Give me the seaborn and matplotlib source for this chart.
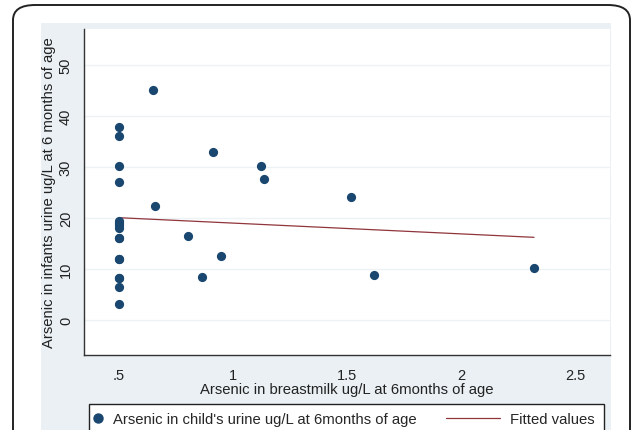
import numpy as np
import pandas as pd
import matplotlib
matplotlib.use("Agg")
import matplotlib.pyplot as plt
from matplotlib.patches import FancyBboxPatch, Rectangle
from matplotlib.lines import Line2D
import seaborn as sns

# values
# (several x=.5 points sit on top of each other; the fitted line implies extra ones)
breastmilk = [0.5, 0.5, 0.5, 0.5, 0.5, 0.5, 0.5, 0.5, 0.5, 0.5, 0.5, 0.5, 0.5,
              0.5, 0.5, 0.5,
              0.648, 0.658, 0.80, 0.865, 0.909, 0.946, 1.12, 1.136,
              1.516, 1.618, 2.317]
urine = [37.8, 36.0, 30.1, 27.0, 19.5, 19.0, 18.1, 16.1, 12.0, 8.2, 6.6, 3.2, 18.6,
         8.2, 12.0, 16.1,
         45.0, 22.4, 16.4, 8.4, 33.0, 12.5, 30.1, 27.6,
         24.1, 8.8, 10.2]
x_ticks = [0.5, 1, 1.5, 2, 2.5]
x_tick_labels = [".5", "1", "1.5", "2", "2.5"]
y_ticks = [0, 10, 20, 30, 40, 50]

df = pd.DataFrame({"milk": breastmilk, "urine": urine})

sns.set_style("white")
plt.rcParams["font.family"] = ["Liberation Sans", "DejaVu Sans"]

W, H = 635, 431
fig = plt.figure(figsize=(W / 100, H / 100), dpi=100)
fig.patch.set_facecolor("white")

# rounded outer frame and Stata-like graph region
frame = FancyBboxPatch((13 / W, -0.2), (630 - 13) / W, 1.2 - 6 / H,
                       boxstyle="round,pad=0,rounding_size=0.035",
                       transform=fig.transFigure, facecolor="white",
                       edgecolor="#222222", linewidth=1.4, zorder=0)
fig.patches.append(frame)
region = Rectangle((41 / W, 0), (611 - 41) / W, 1 - 24 / H,
                   transform=fig.transFigure, facecolor="#EAF0F4",
                   edgecolor="none", zorder=0.2)
fig.patches.append(region)
legbox = Rectangle((89 / W, -0.05), (604 - 89) / W, 0.05 + 1 - 405 / H,
                   transform=fig.transFigure, facecolor="white",
                   edgecolor="#222222", linewidth=1.0, zorder=0.3)
fig.patches.append(legbox)

ax = fig.add_axes([84 / W, 1 - 356 / H, (610 - 84) / W, (356 - 30) / H])
ax.set_zorder(1)
ax.set_facecolor("white")

navy = "#1A476F"
maroon = "#90353B"

sns.regplot(data=df, x="milk", y="urine", ax=ax, ci=None, scatter=False,
            truncate=True, line_kws={"color": maroon, "lw": 0.9})
sns.scatterplot(data=df, x="milk", y="urine", ax=ax, color=navy, s=44,
                edgecolor=navy, linewidth=0, zorder=3)

ax.set_xlim(0.346, 2.65)
ax.set_ylim(-6.8, 57)
ax.set_xticks(x_ticks)
ax.set_xticklabels(x_tick_labels)
ax.set_yticks(y_ticks)
for t in y_ticks:
    ax.axhline(t, color="#EDF3F5", lw=1.0, zorder=0)

for s in ["top", "right"]:
    ax.spines[s].set_visible(False)
for s in ["left", "bottom"]:
    ax.spines[s].set_color("#333333")
    ax.spines[s].set_linewidth(1.0)

ax.tick_params(axis="both", direction="out", length=5, width=1,
               color="#333333", labelsize=10.5, labelcolor="#222222")
ax.tick_params(axis="x", pad=4.5)
ax.tick_params(axis="y", pad=3)
for lab in ax.get_yticklabels():
    lab.set_rotation(90)
    lab.set_va("center")

ax.set_xlabel("Arsenic in breastmilk ug/L at 6months of age", fontsize=10.7,
              color="#222222", labelpad=0)
ax.set_ylabel("Arsenic in infants urine ug/L at 6 months of age", fontsize=10.7,
              color="#222222", labelpad=2)

# legend entries: two frameless legends over a drawn box
leg_y = 1 - 420 / H
leg1 = fig.legend([Line2D([], [], marker="o", ls="none", color=navy, markersize=6.5)],
                  ["Arsenic in child's urine ug/L at 6months of age"],
                  loc="center left", bbox_to_anchor=(91 / W, leg_y),
                  frameon=False, fontsize=10.7, handlelength=1.0,
                  handletextpad=0.5, borderpad=0, borderaxespad=0)
leg2 = fig.legend([Line2D([], [], color=maroon, lw=0.9)], ["Fitted values"],
                  loc="center left", bbox_to_anchor=(446 / W, leg_y),
                  frameon=False, fontsize=10.7, handlelength=3.6,
                  handletextpad=0.7, borderpad=0, borderaxespad=0)
for lg in (leg1, leg2):
    lg.set_zorder(2)

fig.savefig("out.png", dpi=100)
